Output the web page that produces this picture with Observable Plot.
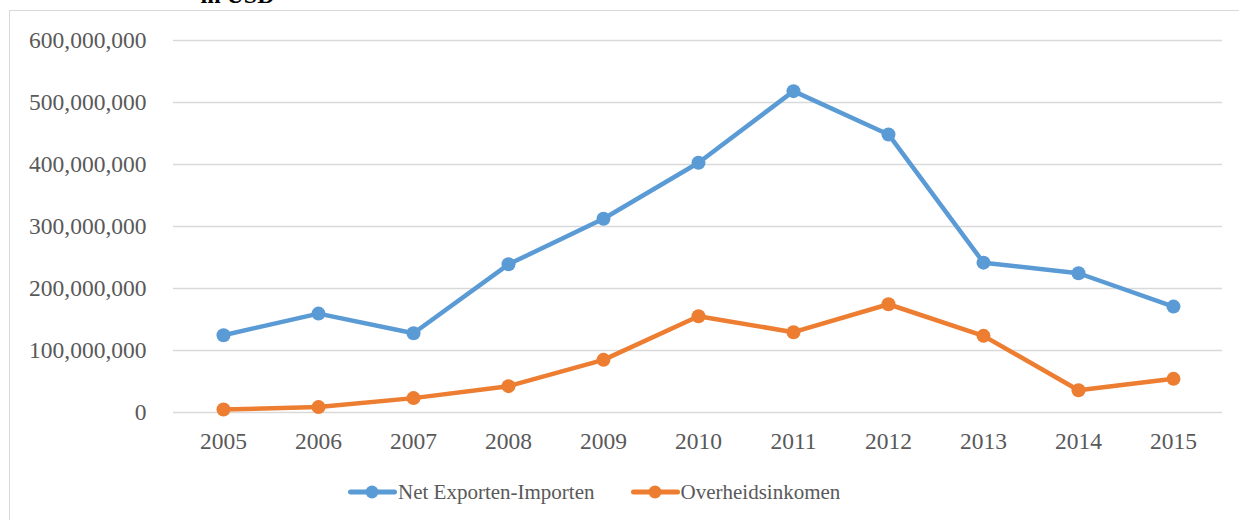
<!DOCTYPE html>
<html>
<head>
<meta charset="utf-8">
<script src="https://cdn.jsdelivr.net/npm/d3@7"></script>
<script src="https://cdn.jsdelivr.net/npm/@observablehq/plot@0.6"></script>
<style>
  html, body { margin: 0; padding: 0; background: #fff; overflow: hidden; }
  #wrap { position: relative; width: 1239px; height: 520px; overflow: hidden; font-family: "Liberation Serif", "Times New Roman", serif; }
  #frame { position: absolute; left: 9px; top: 10px; width: 1260px; height: 540px; border: 1px solid #d9d9d9; box-sizing: border-box; }
  #title { position: absolute; left: 237.5px; top: -16.6px; transform: translateX(-50%); font-size: 24px; line-height: 24px; font-weight: bold; color: #000; white-space: nowrap; }
  #chart { position: absolute; left: 0; top: 0; }
  #legend { position: absolute; left: 348px; top: 479px; height: 26px; display: flex; align-items: center; font-size: 21px; color: #595959; white-space: nowrap; }
  #legend .item { display: flex; align-items: center; }
  #legend .item + .item { margin-left: 36px; }
  #legend svg { display: block; margin-right: 1px; }
</style>
</head>
<body>
<div id="wrap">
  <div id="frame"></div>
  <div id="title">in USD</div>
  <div id="chart"></div>
  <div id="legend"></div>
</div>
<script>
const years = ["2005","2006","2007","2008","2009","2010","2011","2012","2013","2014","2015"];
const netExportenImporten = [124.7e6, 159.5e6, 127.9e6, 239e6, 312.6e6, 402.8e6, 518.3e6, 448.5e6, 241.7e6, 224.6e6, 170.8e6];
const overheidsinkomen = [4.8e6, 8.7e6, 23.2e6, 42.5e6, 84.9e6, 155.3e6, 129.5e6, 174.6e6, 123.6e6, 36e6, 54.3e6];
const seriesNames = ["Net Exporten-Importen", "Overheidsinkomen"];
const seriesColors = ["#5B9BD5", "#ED7D31"];
const yTicks = [0, 100e6, 200e6, 300e6, 400e6, 500e6, 600e6];

const data = [];
years.forEach((yr, i) => data.push({ year: yr, value: netExportenImporten[i], series: seriesNames[0] }));
years.forEach((yr, i) => data.push({ year: yr, value: overheidsinkomen[i], series: seriesNames[1] }));

const fmt = d3.format(",");
const chart = Plot.plot({
  width: 1239,
  height: 470,
  marginLeft: 173,
  marginRight: 17,
  marginTop: 40,
  marginBottom: 58,
  style: { fontFamily: "'Liberation Serif', 'Times New Roman', serif", fontSize: "23.5px", color: "#595959", background: "transparent", overflow: "visible" },
  x: { type: "point", domain: years, padding: 0.5, label: null },
  y: { domain: [0, 600e6], label: null },
  color: { domain: seriesNames, range: seriesColors },
  marks: [
    Plot.gridY(yTicks, { stroke: "#d9d9d9", strokeOpacity: 1, strokeWidth: 1.5 }),
    Plot.axisY(yTicks, { tickSize: 0, tickPadding: 27, tickFormat: fmt, fill: "#595959", fontSize: 23.5, label: null }),
    Plot.axisX({ tickSize: 0, tickPadding: 20, fill: "#595959", fontSize: 23.5, label: null }),
    Plot.line(data, { x: "year", y: "value", z: "series", stroke: "series", strokeWidth: 4.5, strokeLinejoin: "round", strokeLinecap: "round" }),
    Plot.dot(data, { x: "year", y: "value", fill: "series", r: 7 })
  ]
});
document.getElementById("chart").appendChild(chart);

const legend = document.getElementById("legend");
seriesNames.forEach((name, i) => {
  const item = document.createElement("div");
  item.className = "item";
  const ns = "http://www.w3.org/2000/svg";
  const sw = document.createElementNS(ns, "svg");
  sw.setAttribute("width", 49);
  sw.setAttribute("height", 20);
  const ln = document.createElementNS(ns, "line");
  ln.setAttribute("x1", 2.5); ln.setAttribute("x2", 46.5);
  ln.setAttribute("y1", 10); ln.setAttribute("y2", 10);
  ln.setAttribute("stroke", seriesColors[i]);
  ln.setAttribute("stroke-width", 5);
  ln.setAttribute("stroke-linecap", "round");
  const c = document.createElementNS(ns, "circle");
  c.setAttribute("cx", 24); c.setAttribute("cy", 10); c.setAttribute("r", 6.5);
  c.setAttribute("fill", seriesColors[i]);
  sw.appendChild(ln); sw.appendChild(c);
  const label = document.createElement("span");
  label.textContent = name;
  item.appendChild(sw); item.appendChild(label);
  legend.appendChild(item);
});
</script>
</body>
</html>
